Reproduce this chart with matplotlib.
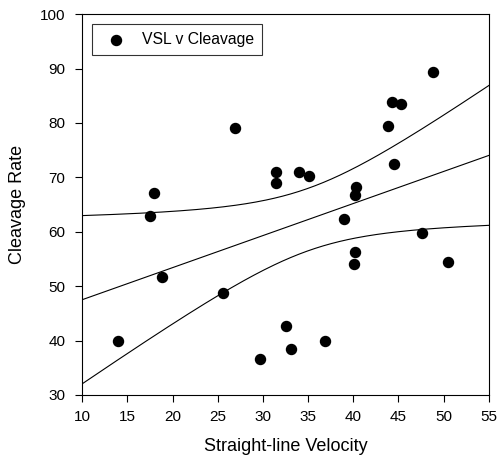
import numpy as np
import matplotlib
matplotlib.use("Agg")
import matplotlib.pyplot as plt

plt.rcParams['font.family'] = ['Liberation Sans', 'DejaVu Sans']

vsl = [14.0, 17.55, 17.9, 18.8, 25.6, 26.9, 29.7, 31.5, 31.5, 32.5, 33.1, 34.0, 35.1,
       36.9, 39.0, 40.2, 40.1, 40.3, 40.2, 43.8, 44.3, 45.3, 44.5, 47.6, 48.8, 50.5]
cleavage = [40.0, 62.9, 67.2, 51.6, 48.7, 79.0, 36.6, 70.9, 69.0, 42.6, 38.5, 71.0, 70.2,
            40.0, 62.3, 56.3, 54.1, 68.2, 66.7, 79.4, 83.8, 83.5, 72.4, 59.7, 89.3, 54.4]
xticks = [10, 15, 20, 25, 30, 35, 40, 45, 50, 55]
yticks = [30, 40, 50, 60, 70, 80, 90, 100]

x = np.array(vsl)
y = np.array(cleavage)
n = len(x)
slope, intercept = np.polyfit(x, y, 1)
resid = y - (slope * x + intercept)
s = np.sqrt(np.sum(resid ** 2) / (n - 2))
t = 2.064
xs = np.linspace(10, 55, 200)
fit = slope * xs + intercept
se = s * np.sqrt(1 / n + (xs - x.mean()) ** 2 / np.sum((x - x.mean()) ** 2))

fig = plt.figure(figsize=(5.04, 4.58), dpi=100)
ax = fig.add_axes([0.163, 0.1376, 0.807, 0.8314])
ax.plot(xs, fit, color='black', lw=0.8)
ax.plot(xs, fit + t * se, color='black', lw=0.8)
ax.plot(xs, fit - t * se, color='black', lw=0.8)
ax.scatter(x, y, s=52, color='black', zorder=3, label='VSL v Cleavage')
ax.set_xlim(10, 55)
ax.set_ylim(30, 100)
ax.set_xticks(xticks)
ax.set_yticks(yticks)
ax.tick_params(labelsize=11, length=5, width=0.8, direction='out')
ax.tick_params(axis='x', pad=6)
ax.tick_params(axis='y', pad=7)
for sp in ax.spines.values():
    sp.set_linewidth(0.8)
ax.set_xlabel('Straight-line Velocity', fontsize=13, labelpad=10)
ax.set_ylabel('Cleavage Rate', fontsize=13, labelpad=10)
leg = ax.legend(loc='upper left', fontsize=11.3, frameon=True, fancybox=False,
                edgecolor='black', borderpad=0.5, handletextpad=0.7,
                borderaxespad=0, bbox_to_anchor=(0.0246, 0.974))
leg.get_frame().set_linewidth(0.8)
fig.savefig('out.png', dpi=100)
